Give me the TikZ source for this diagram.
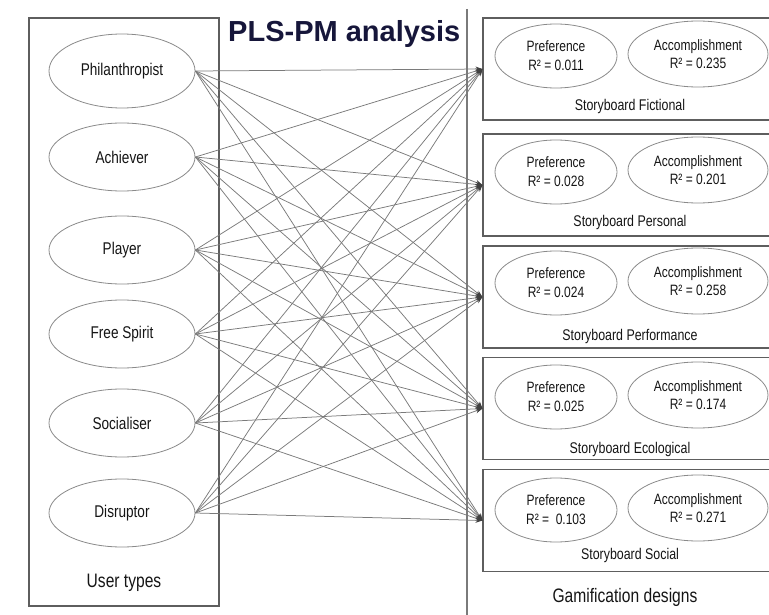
\documentclass[tikz,border=0pt]{standalone}
\usepackage{fontspec}
\setmainfont{Liberation Sans}[FakeStretch=0.8]
\newfontfamily\titlefont{Liberation Sans}
\usetikzlibrary{shapes.geometric,arrows.meta}
\definecolor{linegray}{HTML}{7A7A7A}
\definecolor{ellgray}{HTML}{8A8A8A}
\definecolor{boxgray}{HTML}{5E5E5E}
\definecolor{tipgray}{HTML}{404040}
\definecolor{titlecol}{HTML}{16163A}
\definecolor{txt}{HTML}{151515}
\begin{document}
\begin{tikzpicture}[x=1pt,y=-1pt,
  usr/.style={ellipse,draw=ellgray,line width=0.8pt,minimum width=146pt,minimum height=68pt,inner sep=0pt,text=txt,font=\fontsize{17}{20}\selectfont},
  pref/.style={ellipse,draw=ellgray,line width=0.8pt,minimum width=122pt,minimum height=64pt,inner sep=0pt,align=center,text=txt,font=\fontsize{15}{19}\selectfont},
  acc/.style={ellipse,draw=ellgray,line width=0.8pt,minimum width=140pt,minimum height=66pt,inner sep=0pt,align=center,text=txt,font=\fontsize{15}{18}\selectfont},
  gbox/.style={rectangle,draw=boxgray,line width=1.1pt,minimum width=292pt,minimum height=102pt,inner sep=0pt},
  lbl/.style={text=txt,inner sep=0pt,font=\fontsize{15.5}{18}\selectfont},
  captxt/.style={text=txt,inner sep=0pt,font=\fontsize{19.5}{22}\selectfont},
  link/.style={draw=linegray,line width=0.75pt,-{Stealth[length=7pt,width=5pt,color=tipgray]}}]
\useasboundingbox (0,0) rectangle (769,615);

% left container
\node[rectangle,draw=boxgray,line width=1.1pt,minimum width=190pt,minimum height=588pt,inner sep=0pt] (utbox) at (124,312) {};
\node[captxt] (ut) at (124,583) {User types};

% divider
\draw[draw=linegray,line width=1.1pt] (467,9) -- (467,615);

% title
\node[anchor=base west,inner sep=0pt,text=titlecol,font=\titlefont\fontsize{29}{32}\selectfont\bfseries] (title) at (228,42) {PLS-PM analysis};

% user types
\node[usr,minimum height=74pt] (u1) at (122,71) {Philanthropist};
\node[usr] (u2) at (122,157) {Achiever};
\node[usr] (u3) at (122,250) {Player};
\node[usr] (u4) at (122,334) {Free Spirit};
\node[usr] (u5) at (122,423) {Socialiser};
\node[usr] (u6) at (122,513) {Disruptor};

% gamification design boxes
\node[gbox] (g1) at (629,69) {};
\node[gbox] (g2) at (629,185) {};
\node[gbox] (g3) at (629,297) {};
\node[gbox] (g4) at (629,408.5) {};
\node[gbox] (g5) at (629,520.5) {};

\node[pref] (p1) at (556,56) {Preference\\R² = 0.011};
\node[acc]  (a1) at (698,54) {Accomplishment\\R² = 0.235};
\node[lbl]  (l1) at (630,106) {Storyboard Fictional};

\node[pref] (p2) at (556,172) {Preference\\R² = 0.028};
\node[acc]  (a2) at (698,170) {Accomplishment\\R² = 0.201};
\node[lbl]  (l2) at (630,222) {Storyboard Personal};

\node[pref] (p3) at (556,283) {Preference\\R² = 0.024};
\node[acc]  (a3) at (698,281) {Accomplishment\\R² = 0.258};
\node[lbl]  (l3) at (630,336) {Storyboard Performance};

\node[pref] (p4) at (556,397) {Preference\\R² = 0.025};
\node[acc]  (a4) at (698,395) {Accomplishment\\R² = 0.174};
\node[lbl]  (l4) at (630,449) {Storyboard Ecological};

\node[pref] (p5) at (556,510) {Preference\\R² =\ \ 0.103};
\node[acc]  (a5) at (698,508) {Accomplishment\\R² = 0.271};
\node[lbl]  (l5) at (630,555) {Storyboard Social};

\node[captxt] (gd) at (625,597) {Gamification designs};

% connectors
\foreach \u in {1,...,6}{
  \foreach \g in {1,...,5}{
    \draw[link] (u\u.east) -- (g\g.west);
  }
}
\end{tikzpicture}
\end{document}
